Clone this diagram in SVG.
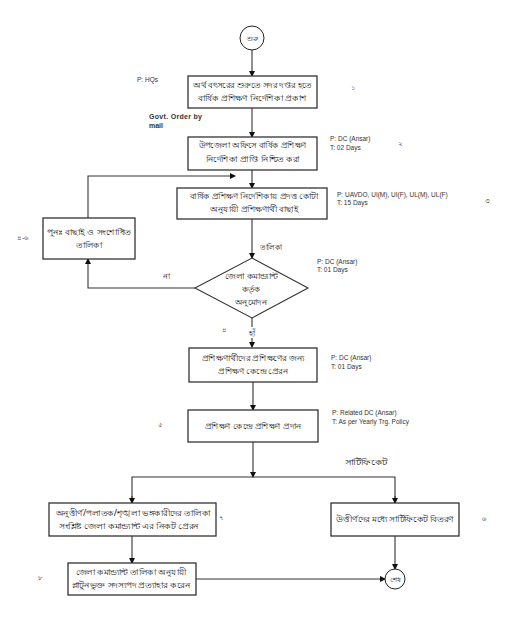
<svg xmlns="http://www.w3.org/2000/svg" width="506" height="617" viewBox="0 0 506 617">
<style>
.box{fill:#fff;stroke:#333;stroke-width:1.3}
.bn{font-family:"Noto Sans","Noto Sans CJK SC",sans-serif;font-size:8px;fill:#111;text-anchor:middle}
.num{font-family:"Noto Sans","Noto Sans CJK SC",sans-serif;font-size:7px;fill:#333}
.en{font-family:"Liberation Sans",Arial,sans-serif;font-size:6.5px;fill:#333}
.enb{font-family:"Liberation Sans",Arial,sans-serif;font-size:7px;font-weight:bold;fill:#333}
.ln{fill:none;stroke:#333;stroke-width:1.1}
</style>
<defs>
<marker id="ah" markerWidth="6" markerHeight="6" refX="5" refY="3" orient="auto" markerUnits="userSpaceOnUse">
<path d="M0,0 L6,3 L0,6 Z" fill="#111"/>
</marker>
</defs>
<rect width="506" height="617" fill="#fff"/>
<g id="connectors">
<line class="ln" x1="252" y1="50" x2="252" y2="76" marker-end="url(#ah)"/>
<line class="ln" x1="252" y1="108" x2="252" y2="137" marker-end="url(#ah)"/>
<line class="ln" x1="252" y1="170" x2="252" y2="188" marker-end="url(#ah)"/>
<polyline class="ln" points="88,218 88,176 235,176" marker-end="url(#ah)"/>
<line class="ln" x1="252" y1="219" x2="252" y2="258" marker-end="url(#ah)"/>
<polyline class="ln" points="195,288 88,288 88,259" marker-end="url(#ah)"/>
<line class="ln" x1="252" y1="318" x2="252" y2="327"/>
<line class="ln" x1="252" y1="338" x2="252" y2="347" marker-end="url(#ah)"/>
<line class="ln" x1="253" y1="382" x2="253" y2="410" marker-end="url(#ah)"/>
<line class="ln" x1="253" y1="442" x2="253" y2="477" marker-end="url(#ah)"/>
<polyline class="ln" points="132,503 132,477 395,477 395,503"/>
<line class="ln" x1="132" y1="496" x2="132" y2="503" marker-end="url(#ah)"/>
<line class="ln" x1="395" y1="496" x2="395" y2="503" marker-end="url(#ah)"/>
<line class="ln" x1="132" y1="536" x2="132" y2="563" marker-end="url(#ah)"/>
<line class="ln" x1="395" y1="536" x2="395" y2="569" marker-end="url(#ah)"/>
<line class="ln" x1="196" y1="579" x2="385" y2="579" marker-end="url(#ah)"/>
<text class="bn" x="271" y="250" textLength="22" lengthAdjust="spacingAndGlyphs">তালিকা</text>
<text class="bn" x="166" y="279">না</text>
<text class="bn" x="252" y="336">হাঁ</text>
<text class="bn" x="366" y="465" textLength="43" lengthAdjust="spacingAndGlyphs">সার্টিফিকেট</text>
<text class="enb" x="149" y="119" textLength="53" lengthAdjust="spacing">Govt. Order by</text>
<text class="enb" x="149" y="128">mail</text>
</g>
<g id="start">
<circle cx="252" cy="38" r="12" fill="#fff" stroke="#222" stroke-width="1"/>
<text class="bn" x="252" y="41" style="font-size:7px">শুরু</text>
</g>
<g id="n1">
<rect class="box" x="188" y="76" width="129" height="32"/>
<text class="bn" x="252.5" y="88" textLength="119" lengthAdjust="spacingAndGlyphs">অর্থ বৎসরের শুরুতে সদর দপ্তর হতে</text>
<text class="bn" x="252.5" y="101" textLength="109" lengthAdjust="spacingAndGlyphs">বার্ষিক প্রশিক্ষণ নির্দেশিকা প্রকাশ</text>
<text class="en" x="137" y="82">P: HQs</text>
<text class="num" x="351" y="90">১</text>
</g>
<g id="n2">
<rect class="box" x="188" y="137" width="129" height="33"/>
<text class="bn" x="252.5" y="148" textLength="108" lengthAdjust="spacingAndGlyphs">উপজেলা অফিসে বার্ষিক প্রশিক্ষণ</text>
<text class="bn" x="252.5" y="162" textLength="94" lengthAdjust="spacingAndGlyphs">নির্দেশিকা প্রাপ্তি নিশ্চিত করা</text>
<text class="en" x="330" y="141">P: DC (Ansar)</text>
<text class="en" x="330" y="150">T: 02 Days</text>
<text class="num" x="398" y="146">২</text>
</g>
<g id="n3">
<rect class="box" x="177" y="188" width="150" height="31"/>
<text class="bn" x="254" y="199" textLength="128" lengthAdjust="spacingAndGlyphs">বার্ষিক প্রশিক্ষণ নির্দেশিকায় প্রদত্ত কোটা</text>
<text class="bn" x="254" y="212" textLength="88" lengthAdjust="spacingAndGlyphs">অনুযায়ী প্রশিক্ষণার্থী বাছাই</text>
<text class="en" x="337" y="197">P: UAVDO, UI(M), UI(F), UL(M), UL(F)</text>
<text class="en" x="337" y="205">T: 15 Days</text>
<text class="num" x="485" y="203">৩</text>
</g>
<g id="n4">
<rect class="box" x="43" y="218" width="92" height="41"/>
<text class="bn" x="89" y="235" textLength="84" lengthAdjust="spacingAndGlyphs">পুনঃ  বাছাই ও সংশোধিত</text>
<text class="bn" x="89" y="248" textLength="26" lengthAdjust="spacingAndGlyphs">তালিকা</text>
<text class="num" x="17" y="240">৪-৬</text>
</g>
<g id="decision">
<polygon points="252,258 308,288 252,318 195,288" fill="#fff" stroke="#333" stroke-width="1.1"/>
<text class="bn" x="251" y="279" textLength="53" lengthAdjust="spacingAndGlyphs">জেলা কমান্ড্যান্ট</text>
<text class="bn" x="251" y="292" textLength="19" lengthAdjust="spacingAndGlyphs">কর্তৃক</text>
<text class="bn" x="251" y="305" textLength="32" lengthAdjust="spacingAndGlyphs">অনুমোদন</text>
<text class="en" x="317" y="264">P: DC (Ansar)</text>
<text class="en" x="317" y="272">T: 01 Days</text>
<text class="num" x="222" y="332">৪</text>
</g>
<g id="n5">
<rect class="box" x="189" y="348" width="128" height="34"/>
<text class="bn" x="253" y="361" textLength="103" lengthAdjust="spacingAndGlyphs">প্রশিক্ষণার্থীদের প্রশিক্ষণের জন্য</text>
<text class="bn" x="253" y="374" textLength="70" lengthAdjust="spacingAndGlyphs">প্রশিক্ষণ কেন্দ্রে প্রেরন</text>
<text class="en" x="331" y="360">P: DC (Ansar)</text>
<text class="en" x="331" y="369">T: 01 Days</text>
</g>
<g id="n6">
<rect class="box" x="188" y="410" width="130" height="32"/>
<text class="bn" x="253" y="429" textLength="97" lengthAdjust="spacingAndGlyphs">প্রশিক্ষণ কেন্দ্রে প্রশিক্ষণ প্রদান</text>
<text class="en" x="332" y="415">P: Related DC (Ansar)</text>
<text class="en" x="332" y="424">T: As per Yearly Trg. Policy</text>
<text class="num" x="158" y="427">৫</text>
</g>
<g id="n7">
<rect class="box" x="49" y="503" width="167" height="33"/>
<text class="bn" x="133" y="516" textLength="155" lengthAdjust="spacingAndGlyphs">অনুত্তীর্ণ/পলাতক/শৃঙ্খলা ভঙ্গকারীদের তালিকা</text>
<text class="bn" x="129" y="529" textLength="140" lengthAdjust="spacingAndGlyphs">সংশ্লিষ্ট জেলা কমান্ড্যান্ট এর নিকট প্রেরন</text>
<text class="num" x="219" y="520">৭</text>
</g>
<g id="n8">
<rect class="box" x="331" y="503" width="128" height="33"/>
<text class="bn" x="395" y="522" textLength="118" lengthAdjust="spacingAndGlyphs">উত্তীর্ণদের মধ্যে সার্টিফিকেট বিতরণ</text>
<text class="num" x="482" y="521">৬</text>
</g>
<g id="n9">
<rect class="box" x="68" y="563" width="128" height="32"/>
<text class="bn" x="131" y="575" textLength="111" lengthAdjust="spacingAndGlyphs">জেলা কমান্ড্যান্ট তালিকা অনুযায়ী</text>
<text class="bn" x="131" y="588" textLength="119" lengthAdjust="spacingAndGlyphs">প্লাটুনভুক্ত সদস্যপদ প্রত্যাহার করেন</text>
<text class="num" x="38" y="580">৮</text>
</g>
<g id="end">
<circle cx="395" cy="579" r="10" fill="#fff" stroke="#222" stroke-width="1"/>
<text class="bn" x="395" y="582" style="font-size:7px">শেষ</text>
</g>
</svg>
